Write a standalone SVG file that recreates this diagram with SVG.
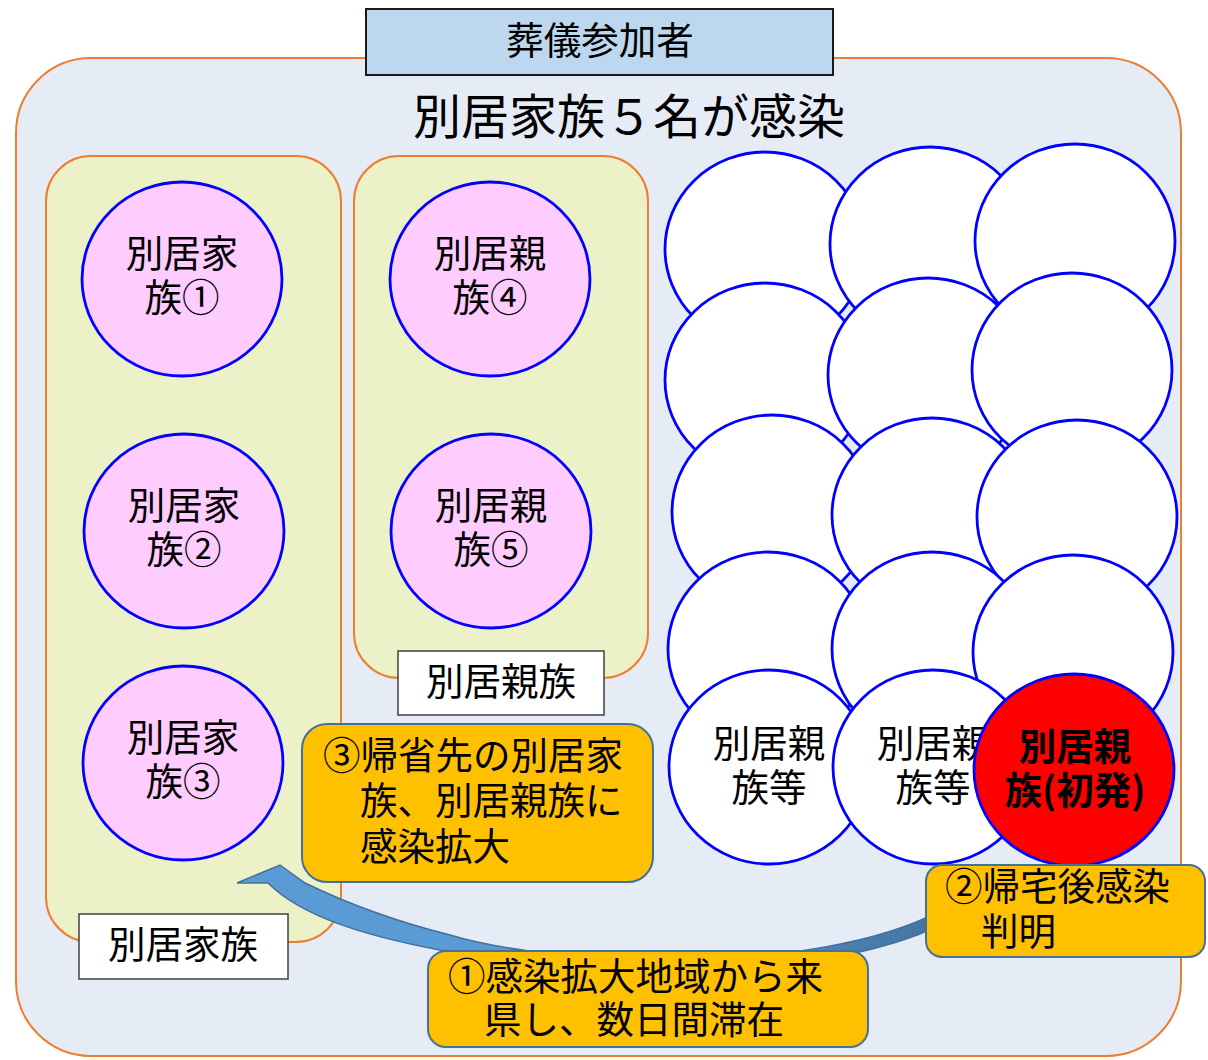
<svg xmlns="http://www.w3.org/2000/svg" width="1208" height="1060" viewBox="0 0 1208 1060">
<defs>
<style>
text{font-family:'Noto Sans CJK JP','Noto Sans CJK SC',sans-serif;fill:#000;}
.t36{font-size:37.5px;}
.mid{text-anchor:middle;}
.grp{fill:#EDF1C7;stroke:#ED7D31;stroke-width:2;}
.pink{fill:#FFCCFF;stroke:#0000FF;stroke-width:2.8;}
.wht{fill:#FFFFFF;stroke:#0000FF;stroke-width:2.8;}
.red{fill:#FF0000;stroke:#0000FF;stroke-width:2.8;}
.lbl{fill:#FFFFFF;stroke:#404040;stroke-width:1.5;}
.call{fill:#FFC000;stroke:#41719C;stroke-width:2;}
.bold{font-weight:700;}
</style>
<linearGradient id="arrowGrad" x1="237" y1="0" x2="945" y2="0" gradientUnits="userSpaceOnUse">
<stop offset="0" stop-color="#5B9BD5"/>
<stop offset="0.55" stop-color="#5B9BD5"/>
<stop offset="1" stop-color="#44739F"/>
</linearGradient>
</defs>

<g id="outer">
<rect x="16" y="58" width="1165" height="998" rx="75" ry="75" fill="#E6ECF6" stroke="#ED7D31" stroke-width="2"/>
</g>
<g id="header">
<rect x="366" y="9" width="467" height="66" fill="#BDD7EE" stroke="#1a1a1a" stroke-width="2"/>
<text class="t36 mid" x="600" y="54">葬儀参加者</text>
</g>
<g id="title">
<text class="mid" x="629" y="134" style="font-size:48px">別居家族５名が感染</text>
</g>

<g id="group-family">
<rect class="grp" x="46" y="156" width="295" height="786" rx="45" ry="45"/>
</g>
<g id="group-relatives">
<rect class="grp" x="354" y="156" width="294" height="522" rx="45" ry="45"/>
</g>

<g id="family1">
<ellipse class="pink" cx="182" cy="279" rx="100" ry="97"/>
<text class="t36 mid"><tspan x="182" y="267">別居家</tspan><tspan x="182" y="311">族①</tspan></text>
</g>
<g id="family2">
<ellipse class="pink" cx="184" cy="531" rx="100" ry="97"/>
<text class="t36 mid"><tspan x="184" y="519">別居家</tspan><tspan x="184" y="563">族②</tspan></text>
</g>
<g id="family3">
<ellipse class="pink" cx="183" cy="763" rx="100" ry="97"/>
<text class="t36 mid"><tspan x="183" y="751">別居家</tspan><tspan x="183" y="795">族③</tspan></text>
</g>
<g id="relative4">
<ellipse class="pink" cx="490" cy="279" rx="100" ry="97"/>
<text class="t36 mid"><tspan x="490" y="267">別居親</tspan><tspan x="490" y="311">族④</tspan></text>
</g>
<g id="relative5">
<ellipse class="pink" cx="491" cy="531" rx="100" ry="97"/>
<text class="t36 mid"><tspan x="491" y="519">別居親</tspan><tspan x="491" y="563">族⑤</tspan></text>
</g>

<g id="label-relatives">
<rect class="lbl" x="398" y="651" width="206" height="64"/>
<text class="t36 mid" x="501" y="695">別居親族</text>
</g>
<g id="label-family">
<rect class="lbl" x="79" y="914" width="209" height="65"/>
<text class="t36 mid" x="183" y="958">別居家族</text>
</g>

<g id="others">
<ellipse class="wht" cx="765" cy="249" rx="100" ry="97"/>
<ellipse class="wht" cx="930" cy="244" rx="100" ry="97"/>
<ellipse class="wht" cx="1075" cy="241" rx="100" ry="97"/>
<ellipse class="wht" cx="765" cy="380" rx="100" ry="97"/>
<ellipse class="wht" cx="928" cy="375" rx="100" ry="97"/>
<ellipse class="wht" cx="1072" cy="370" rx="100" ry="97"/>
<ellipse class="wht" cx="772" cy="512" rx="100" ry="97"/>
<ellipse class="wht" cx="932" cy="515" rx="100" ry="97"/>
<ellipse class="wht" cx="1077" cy="517" rx="100" ry="97"/>
<ellipse class="wht" cx="768" cy="649" rx="100" ry="97"/>
<ellipse class="wht" cx="932" cy="649" rx="100" ry="97"/>
<ellipse class="wht" cx="1073" cy="652" rx="100" ry="97"/>
</g>
<g id="relative-etc1">
<ellipse class="wht" cx="769" cy="767" rx="100" ry="97"/>
<text class="t36 mid"><tspan x="769" y="757">別居親</tspan><tspan x="769" y="801">族等</tspan></text>
</g>
<g id="relative-etc2">
<ellipse class="wht" cx="933" cy="767" rx="100" ry="97"/>
<text class="t36 mid"><tspan x="933" y="757">別居親</tspan><tspan x="933" y="801">族等</tspan></text>
</g>
<g id="first-case">
<ellipse class="red" cx="1074" cy="770" rx="100" ry="96"/>
<text class="t36 mid bold"><tspan x="1075" y="760">別居親</tspan><tspan x="1075" y="804">族(初発)</tspan></text>
</g>

<g id="connectors">
<path d="M237,883 L280,865 L305,883 C340,900 390,920 450,935 C560,968 820,975 940,911 L940,925 C840,975 600,990 440,950 C360,935 300,915 268,883 Z" fill="url(#arrowGrad)" stroke="#41719C" stroke-width="1.5" stroke-linejoin="miter"/>
</g>

<g id="callout3">
<rect class="call" x="302" y="724" width="351" height="158" rx="25" ry="25"/>
<text class="t36"><tspan x="323" y="769">③帰省先の別居家</tspan><tspan x="360" y="814">族、別居親族に</tspan><tspan x="360" y="860">感染拡大</tspan></text>
</g>
<g id="callout2">
<rect class="call" x="926" y="865" width="279" height="92" rx="16" ry="16"/>
<text class="t36"><tspan x="945" y="900">②帰宅後感染</tspan><tspan x="981" y="945">判明</tspan></text>
</g>
<g id="callout1">
<rect class="call" x="428" y="951" width="440" height="96" rx="18" ry="18"/>
<text class="t36"><tspan x="448" y="990">①感染拡大地域から来</tspan><tspan x="484" y="1033">県し、数日間滞在</tspan></text>
</g>
</svg>
